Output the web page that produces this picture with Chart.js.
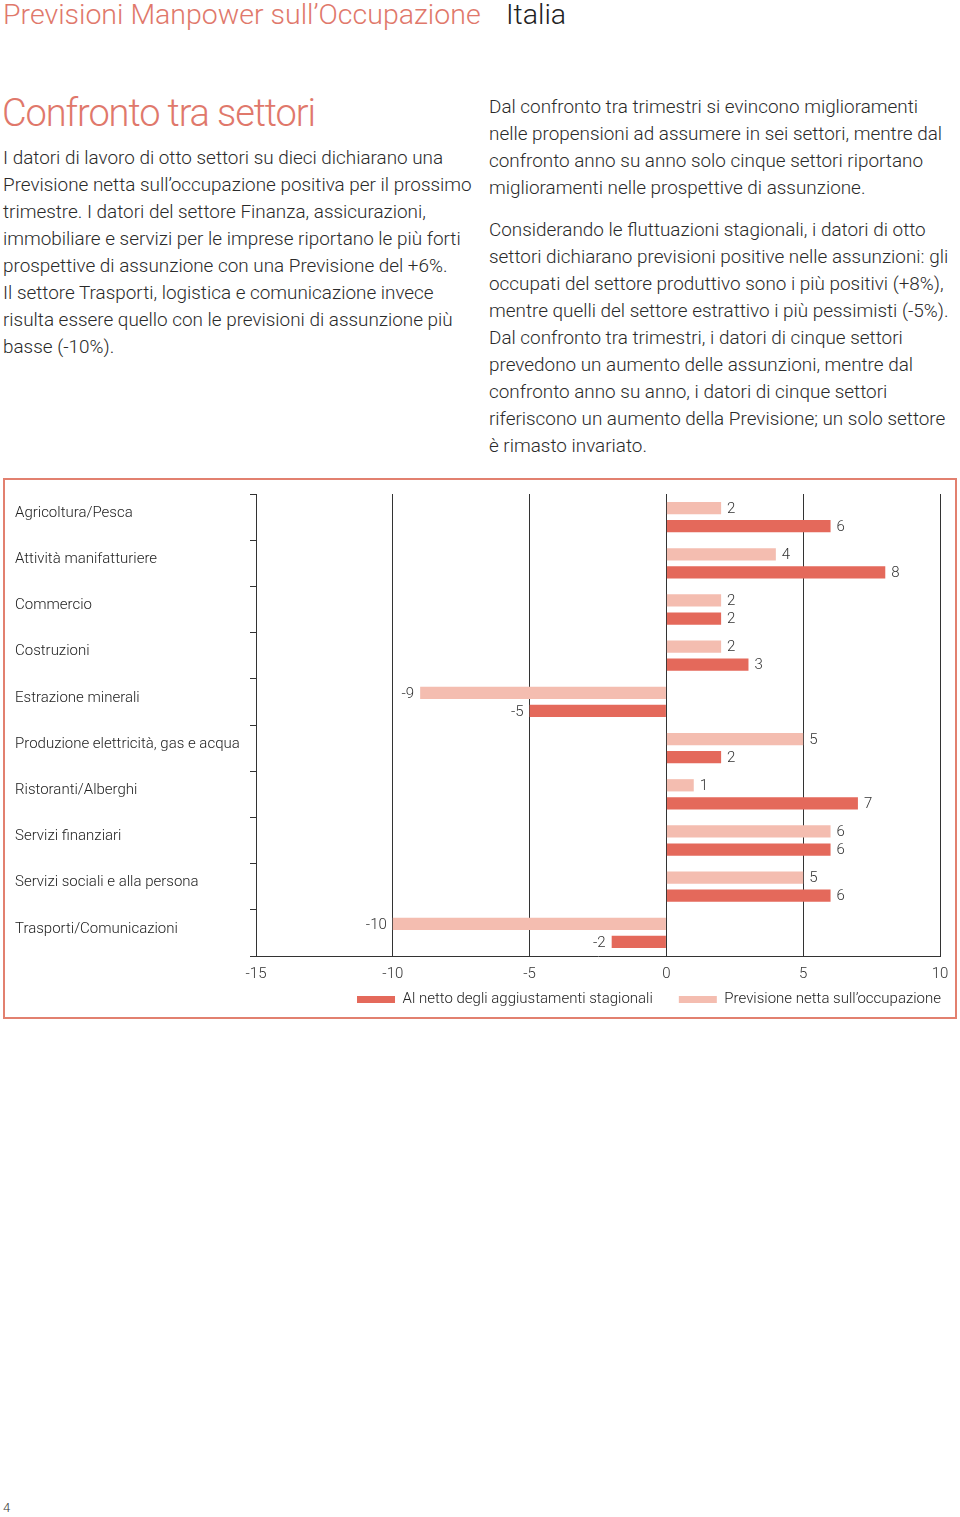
<!DOCTYPE html>
<html lang="it">
<head>
<meta charset="utf-8">
<title>Confronto tra settori</title>
<script src="https://cdn.jsdelivr.net/npm/chart.js@4.4.1/dist/chart.umd.min.js"></script>
<style>
html,body{margin:0;padding:0;background:#fff;overflow:hidden;}
body{width:960px;height:1517px;position:relative;font-family:Roboto,"Liberation Sans",sans-serif;font-weight:300;color:#333;}
.abs{position:absolute;white-space:nowrap;}
#top{left:3px;top:-2px;font-size:28.5px;line-height:34px;color:#e0786b;}
#paese{left:506px;top:-2px;font-size:28.5px;line-height:34px;color:#222;}
#titolo{left:2px;top:91px;font-size:38px;line-height:44px;color:#e0786b;letter-spacing:-1.1px;}
.testo{font-size:18.9px;line-height:27px;color:#2a2a2a;}
#col1{left:3px;top:144px;}
#col2{left:489px;top:93px;}
#col3{left:489px;top:216px;}
#box{left:3px;top:478px;width:954px;height:541px;border:2px solid #e2806f;box-sizing:border-box;}
#wrap{left:5px;top:480px;width:962px;height:537px;}
#pag{left:3px;top:1499px;font-size:13px;line-height:18px;color:#333;}
</style>
</head>
<body>
<div class="abs" id="top">Previsioni Manpower sull’Occupazione</div>
<div class="abs" id="paese">Italia</div>
<div class="abs" id="titolo">Confronto tra settori</div>
<div class="abs testo" id="col1">I datori di lavoro di otto settori su dieci dichiarano una<br>Previsione netta sull’occupazione positiva per il prossimo<br>trimestre. I datori del settore Finanza, assicurazioni,<br>immobiliare e servizi per le imprese riportano le più forti<br>prospettive di assunzione con una Previsione del +6%.<br>Il settore Trasporti, logistica e comunicazione invece<br>risulta essere quello con le previsioni di assunzione più<br>basse (-10%).</div>
<div class="abs testo" id="col2">Dal confronto tra trimestri si evincono miglioramenti<br>nelle propensioni ad assumere in sei settori, mentre dal<br>confronto anno su anno solo cinque settori riportano<br>miglioramenti nelle prospettive di assunzione.</div>
<div class="abs testo" id="col3">Considerando le fluttuazioni stagionali, i datori di otto<br>settori dichiarano previsioni positive nelle assunzioni: gli<br>occupati del settore produttivo sono i più positivi (+8%),<br>mentre quelli del settore estrattivo i più pessimisti (-5%).<br>Dal confronto tra trimestri, i datori di cinque settori<br>prevedono un aumento delle assunzioni, mentre dal<br>confronto anno su anno, i datori di cinque settori<br>riferiscono un aumento della Previsione; un solo settore<br>è rimasto invariato.</div>
<div class="abs" id="box"></div>
<div class="abs" id="wrap"><canvas id="barChart"></canvas></div>
<div class="abs" id="pag">4</div>

<script>
// DATA

const settori = [
"Agricoltura/Pesca",
"Attività manifatturiere",
"Commercio",
"Costruzioni",
"Estrazione minerali",
"Produzione elettricità, gas e acqua",
"Ristoranti/Alberghi",
"Servizi finanziari",
"Servizi sociali e alla persona",
"Trasporti/Comunicazioni"
];

const previsioneNetta = [2,4,2,2,-9,5,1,6,5,-10];
const alNetto = [6,8,2,3,-5,2,7,6,6,-2];

const xTicks = [-15,-10,-5,0,5,10];

const FONT = "Roboto, 'Liberation Sans', sans-serif";

// VALUE LABELS

const valueLabels = {
id:"valueLabels",
afterDatasetsDraw(chart){
const ctx = chart.ctx;
ctx.save();
ctx.font = "300 15px " + FONT;
ctx.fillStyle = "#333";
ctx.textBaseline = "middle";
chart.data.datasets.forEach((ds,d)=>{
chart.getDatasetMeta(d).data.forEach((bar,i)=>{
let v = ds.data[i];
if(v>=0){
ctx.textAlign="left";
ctx.fillText(String(v), bar.x+6, bar.y+1);
}
else{
ctx.textAlign="right";
ctx.fillText(String(v), bar.x-6, bar.y+1);
}
});
});
ctx.restore();
}
};

new Chart(
document.getElementById("barChart"),
{
type:"bar",
data:{
labels:settori,
datasets:[
{
label:"Previsione netta sull’occupazione",
data:previsioneNetta,
backgroundColor:"#f4bdb0"
},
{
label:"Al netto degli aggiustamenti stagionali",
data:alNetto,
backgroundColor:"#e4695b"
}
]
},
options:{
indexAxis:"y",
responsive:true,
maintainAspectRatio:false,
animation:false,
categoryPercentage:0.78,
barPercentage:0.68,
layout:{padding:{left:10,top:14,right:0,bottom:0}},
plugins:{
legend:{
position:"bottom",
align:"end",
reverse:true,
labels:{
boxWidth:38,
boxHeight:7,
padding:26,
color:"#222",
font:{family:FONT,size:15,weight:"300"}
}
},
tooltip:{enabled:false}
},
scales:{
x:{
type:"linear",
min:xTicks[0],
max:xTicks[xTicks.length-1],
afterBuildTicks(s){ s.ticks = xTicks.map(v=>({value:v})); },
// labels mirrored so they are not clipped by the short axis box
afterFit(s){ s.height = 10; },
grid:{color:"#333",lineWidth:1,drawTicks:false},
border:{color:"#333",width:1},
ticks:{
mirror:true,
padding:-27,
autoSkip:false,
color:"#333",
font:{family:FONT,size:15,weight:"300"}
}
},
y:{
position:"left",
afterFit(s){ s.width = 241; },
grid:{drawOnChartArea:false,drawTicks:true,tickLength:6,color:"#333",offset:true},
border:{color:"#333",width:1},
ticks:{
crossAlign:"far",
labelOffset:-4,
color:"#222",
font:{family:FONT,size:15,weight:"300"}
}
},
spacer:{
type:"linear",
axis:"y",
position:"right",
display:true,
afterFit(s){ s.width = 27; },
grid:{display:false},
border:{display:false},
ticks:{display:false}
}
}
},
plugins:[valueLabels]
}
);
</script>
</body>
</html>
